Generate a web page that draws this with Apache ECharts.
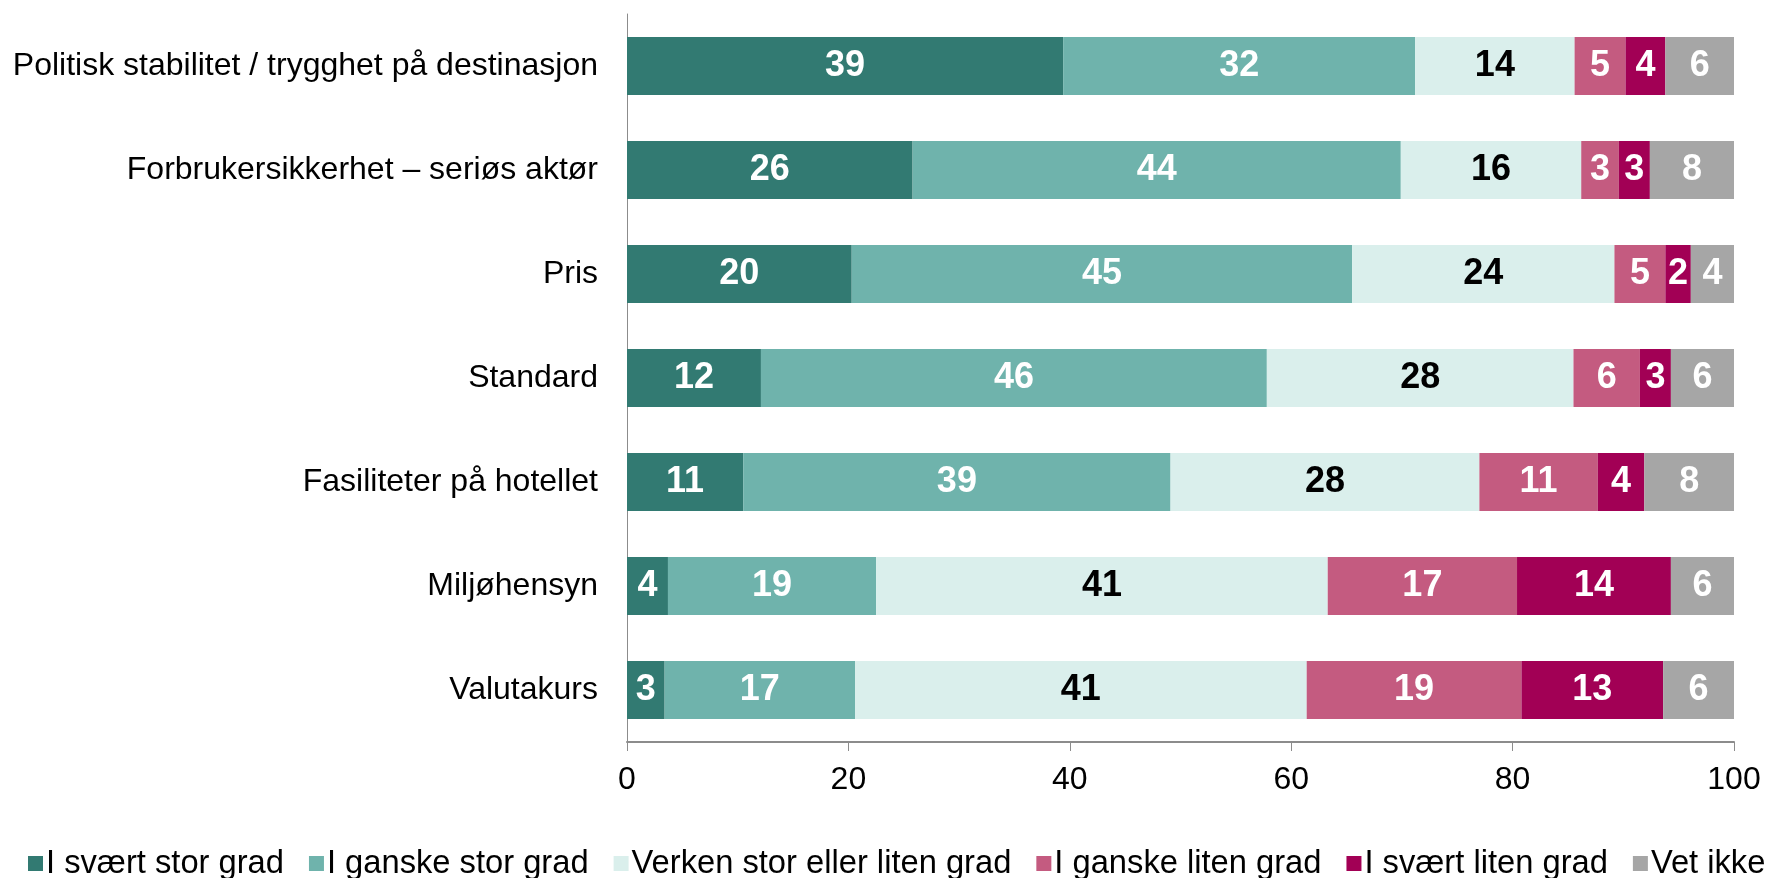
<!DOCTYPE html>
<html>
<head>
<meta charset="utf-8">
<script src="https://cdn.jsdelivr.net/npm/echarts@6/dist/echarts.min.js"></script>
<style>
  html, body { margin: 0; padding: 0; background: #fff; }
  #chart { width: 1777px; height: 878px; }
</style>
</head>
<body>
<div id="chart"></div>
<script>
// categories top to bottom
var categories = [
  'Politisk stabilitet / trygghet på destinasjon',
  'Forbrukersikkerhet – seriøs aktør',
  'Pris',
  'Standard',
  'Fasiliteter på hotellet',
  'Miljøhensyn',
  'Valutakurs'
]

// values (percent), labels show them rounded
var sværtStor = [39.4, 25.8, 20.3, 12.1, 10.5, 3.7, 3.4]
var ganskeStor = [31.8, 44.1, 45.2, 45.7, 38.6, 18.8, 17.2]
var verken = [14.4, 16.3, 23.7, 27.7, 27.9, 40.8, 40.8]
var ganskeLiten = [4.6, 3.4, 4.6, 6.0, 10.7, 17.1, 19.4]
var sværtLiten = [3.6, 2.8, 2.3, 2.8, 4.2, 13.9, 12.8]
var vetIkke = [6.2, 7.6, 3.9, 5.7, 8.1, 5.7, 6.4]

var xTicks = [0, 20, 40, 60, 80, 100]

var seriesNames = [
  'I svært stor grad',
  'I ganske stor grad',
  'Verken stor eller liten grad',
  'I ganske liten grad',
  'I svært liten grad',
  'Vet ikke'
]
var seriesData = [sværtStor, ganskeStor, verken, ganskeLiten, sværtLiten, vetIkke]
var colors = ['#327a72', '#6fb3ac', '#daefec', '#c45b80', '#a20055', '#a6a6a6']
var labelColors = ['#fff', '#fff', '#000', '#fff', '#fff', '#fff']

var font = '"Liberation Sans", Arial, sans-serif'

var chart = echarts.init(document.getElementById('chart'))

chart.setOption({
  animation: false,
  textStyle: { fontFamily: font },
  grid: {
    left: 627,
    right: 43,
    top: 14,
    bottom: 136
  },
  legend: {
    data: seriesNames,
    left: 23,
    top: 842,
    width: 2200,
    itemWidth: 15,
    itemHeight: 15,
    itemGap: 25,
    icon: 'rect',
    textStyle: { fontSize: 32.7, color: '#000', fontFamily: font, padding: [0, 0, 0, -2] }
  },
  xAxis: {
    type: 'value',
    min: xTicks[0],
    max: xTicks[xTicks.length - 1],
    interval: 20,
    splitLine: { show: false },
    axisLine: { show: true, lineStyle: { color: '#8c8c8c', width: 2 } },
    axisTick: { show: true, length: 9, lineStyle: { color: '#8c8c8c', width: 1 } },
    axisLabel: { fontSize: 32, color: '#000', margin: 22, fontFamily: font }
  },
  yAxis: {
    type: 'category',
    data: categories,
    inverse: true,
    axisLine: { show: true, lineStyle: { color: '#8c8c8c', width: 1 } },
    axisTick: { show: false },
    axisLabel: { fontSize: 32, color: '#000', margin: 29, fontFamily: font }
  },
  series: seriesNames.map(function (name, i) {
    return {
      name: name,
      type: 'bar',
      stack: 'total',
      barWidth: 58,
      data: seriesData[i],
      itemStyle: { color: colors[i] },
      label: {
        show: true,
        position: 'inside',
        color: labelColors[i],
        fontSize: 36,
        fontWeight: 'bold',
        fontFamily: font,
        formatter: function (p) {
          return Math.round(p.value)
        }
      }
    }
  })
})
</script>
</body>
</html>
